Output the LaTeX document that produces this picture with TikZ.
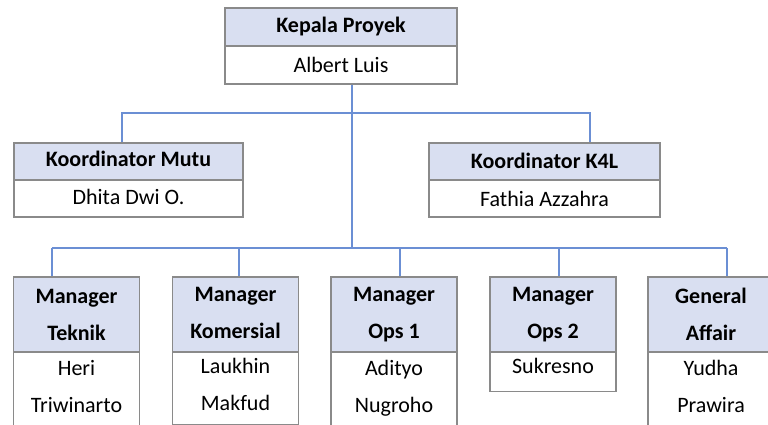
\documentclass[tikz,border=0pt]{standalone}
\usepackage{fontspec}
\setmainfont{Carlito}
\usepackage{tikz}
\definecolor{headblue}{HTML}{D9DFF1}
\definecolor{boxgray}{HTML}{8A8A8A}
\definecolor{linkblue}{HTML}{6B8FD4}

\begin{document}
\begin{tikzpicture}[x=1pt, y=-1pt, every node/.style={font=\fontsize{22}{37}\selectfont, inner sep=0pt, align=center}, head/.style={draw=boxgray, line width=1.2pt, fill=headblue, font=\fontsize{22}{37}\selectfont\bfseries}, body/.style={draw=boxgray, line width=1.2pt, fill=white}, link/.style={draw=linkblue, line width=1.6pt}]
\clip (0,0) rectangle (768,425);
% top: project head
\node[head, minimum width=232pt, minimum height=38pt, text depth=4pt] (kepalaHead) at (341,27) {Kepala Proyek};
\node[body, minimum width=232pt, minimum height=38pt] (kepalaBody) at (341,65) {Albert Luis};
% row 1: coordinators
\node[head, minimum width=229pt, minimum height=37pt, text depth=6pt] (mutuHead) at (128.5,161.5) {Koordinator Mutu};
\node[body, minimum width=229pt, minimum height=37pt, text depth=3pt] (mutuBody) at (128.5,198.5) {Dhita Dwi O.};
\node[head, minimum width=231pt, minimum height=37pt, text depth=2pt] (kfourHead) at (544.5,161.5) {Koordinator K4L};
\node[body, minimum width=231pt, minimum height=37pt] (kfourBody) at (544.5,198.5) {Fathia Azzahra};
% row 2: managers
\node[head, minimum width=126pt, minimum height=75pt] (teknikHead) at (76.5,314.5) {Manager\\Teknik};
\node[body, minimum width=126pt, minimum height=76pt, anchor=north, text depth=8pt] (teknikBody) at (76.5,352) {Heri\\Triwinarto};
\node[head, minimum width=126pt, minimum height=75pt, text depth=4pt] (komHead) at (235.5,314.5) {Manager\\Komersial};
\node[body, minimum width=126pt, minimum height=72pt, anchor=north, text depth=8pt] (komBody) at (235.5,352) {Laukhin\\Makfud};
\node[head, minimum width=126pt, minimum height=75pt] (opsOneHead) at (394,314.5) {Manager\\Ops 1};
\node[body, minimum width=126pt, minimum height=76pt, anchor=north, text depth=9pt] (opsOneBody) at (394,352) {Adityo\\Nugroho};
\node[head, minimum width=126pt, minimum height=75pt] (opsTwoHead) at (553,314.5) {Manager\\Ops 2};
\node[body, minimum width=126pt, minimum height=39pt, anchor=north, text depth=13pt] (opsTwoBody) at (553,352) {Sukresno};
\node[head, minimum width=126pt, minimum height=75pt] (gaHead) at (711,314.5) {General\\Affair};
\node[body, minimum width=126pt, minimum height=76pt, anchor=north, text depth=8pt] (gaBody) at (711,352) {Yudha\\Prawira};
% bus lines
\coordinate (busTop) at (352,113);
\coordinate (busLow) at (352,248);
\draw[link] (kepalaBody.south -| busTop) -- (busLow);
\draw[link] ([xshift=-6.5pt]mutuHead.north) |- (busTop) -| ([xshift=45.5pt]kfourHead.north);
\coordinate (tapTeknik) at (52,248);
\coordinate (tapKom) at (239,248);
\coordinate (tapOpsOne) at (400,248);
\coordinate (tapOpsTwo) at (559,248);
\coordinate (tapGa) at (727,248);
\draw[link] (tapTeknik) -- (tapGa);
\draw[link] (tapTeknik) -- (tapTeknik |- teknikHead.north);
\draw[link] (tapKom) -- (tapKom |- komHead.north);
\draw[link] (tapOpsOne) -- (tapOpsOne |- opsOneHead.north);
\draw[link] (tapOpsTwo) -- (tapOpsTwo |- opsTwoHead.north);
\draw[link] (tapGa) -- (tapGa |- gaHead.north);
\end{tikzpicture}
\end{document}
